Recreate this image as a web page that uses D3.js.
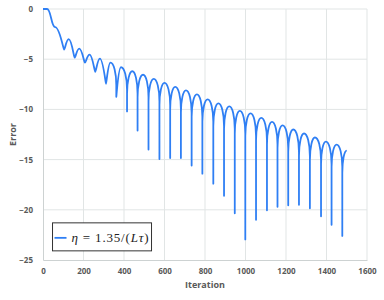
<!DOCTYPE html>
<html lang="en">
<head>
    <meta charset="UTF-8">
    <title>Error vs Iteration</title>
    <script src="https://d3js.org/d3.v7.min.js"></script>
    <style>
        body { margin: 0; background: #fff; }
        svg { display: block; }
        .tick text { font-family: "Open Sans", Arial, sans-serif; font-weight: 700; font-size: 8px; fill: #595959; }
        .axis-title { font-family: "Open Sans", Arial, sans-serif; font-weight: 700; font-size: 9px; fill: #595959; }
    </style>
</head>
<body>
    <svg id="chart" width="384" height="300"></svg>
    <script>
        // points: start, then alternating peak / dip
        const startIter = [0, 20];
        const startErr = [0, 0];
        const peakIter = [60, 127, 179, 230, 281, 333, 385, 441, 494, 547, 600, 653, 706, 760, 813, 866, 920, 972, 1025, 1078, 1131, 1183, 1236, 1289, 1343, 1397, 1450, 1500];
        const peakErr = [-1.8, -3.0, -3.95, -4.55, -4.95, -5.35, -5.8, -6.2, -6.55, -6.95, -7.35, -7.75, -8.1, -8.5, -9.0, -9.4, -9.7, -10.15, -10.4, -10.85, -11.25, -11.6, -12.0, -12.4, -12.8, -13.2, -13.5, -14.1];
        const dipIter = [104, 156, 207, 258, 311, 362, 415, 467, 521, 575, 628, 681, 734, 787, 841, 894, 947, 999, 1052, 1106, 1158, 1211, 1264, 1318, 1373, 1425, 1478];
        const dipErr = [-4.05, -4.85, -5.35, -6.25, -7.45, -8.75, -10.2, -12.1, -14.0, -14.95, -14.85, -14.85, -15.6, -16.4, -17.4, -18.6, -20.35, -22.95, -21.0, -20.05, -19.7, -19.55, -19.5, -19.85, -20.65, -21.5, -22.6];

        const xTicks = [0, 200, 400, 600, 800, 1000, 1200, 1400, 1600];
        const yTicks = [0, -5, -10, -15, -20, -25];

        const svg = d3.select("#chart");
        const margin = { top: 9, right: 17, bottom: 40, left: 43 };
        const width = 384 - margin.left - margin.right;
        const height = 300 - margin.top - margin.bottom;
        const g = svg.append("g").attr("transform", `translate(${margin.left},${margin.top})`);

        const x = d3.scaleLinear().domain([0, 1600]).range([0, width]);
        const y = d3.scaleLinear().domain([-25, 0]).range([height, 0]);

        // grid
        g.append("g").selectAll("line").data(xTicks.slice(1)).join("line")
            .attr("x1", d => x(d)).attr("x2", d => x(d))
            .attr("y1", 0).attr("y2", height)
            .attr("stroke", "#e1e5e5").attr("stroke-width", 1);
        g.append("g").selectAll("line").data(yTicks.slice(0, -1)).join("line")
            .attr("x1", 0).attr("x2", width)
            .attr("y1", d => y(d)).attr("y2", d => y(d))
            .attr("stroke", "#e1e5e5").attr("stroke-width", 1);

        const xAxis = g.append("g").attr("transform", `translate(0,${height})`)
            .call(d3.axisBottom(x).tickValues(xTicks).tickFormat(d3.format("d")).tickSize(0).tickPadding(8));
        const yAxis = g.append("g")
            .call(d3.axisLeft(y).tickValues(yTicks).tickFormat(d3.format("d")).tickSize(0).tickPadding(10));
        [xAxis, yAxis].forEach(a => a.select(".domain").attr("stroke", "#cdd2d2"));

        g.append("text").attr("class", "axis-title")
            .attr("x", width / 2).attr("y", height + 28)
            .attr("text-anchor", "middle").text("Iteration");
        g.append("text").attr("class", "axis-title")
            .attr("transform", `translate(${-27},${height / 2}) rotate(-90)`)
            .attr("text-anchor", "middle").text("Error");

        // build the curve: flat start, then half-arches peak <-> dip
        const pts = [];
        startIter.forEach((it, i) => pts.push({ it, err: startErr[i], kind: "start" }));
        peakIter.forEach((it, i) => {
            pts.push({ it, err: peakErr[i], kind: "peak" });
            if (i < dipIter.length) pts.push({ it: dipIter[i], err: dipErr[i], kind: "dip" });
        });

        const kappa = 0.5523;
        const archH = 30; // px height of the rounded part of each arch
        const p = d3.path();
        p.moveTo(x(pts[0].it), y(pts[0].err));
        for (let i = 1; i < pts.length; i++) {
            const a = pts[i - 1], b = pts[i];
            const x0 = x(a.it), y0 = y(a.err), x1 = x(b.it), y1 = y(b.err);
            const dx = x1 - x0;
            const depth = Math.abs(y1 - y0);
            if (a.kind === "start" && b.kind === "start") {
                p.lineTo(x1, y1);
            } else if (a.kind === "start") {
                p.bezierCurveTo(x0 + dx * 0.5, y0, x0 + dx * 0.5, y1, x1, y1);
            } else if (depth < archH) {
                // shallow wiggle: smooth top, slightly pointed bottom
                const r = 0.3 * (1 - depth / archH);
                if (a.kind === "peak") p.bezierCurveTo(x0 + 0.5 * dx, y0, x1 - r * dx, y1, x1, y1);
                else p.bezierCurveTo(x0 + r * dx, y0, x1 - 0.5 * dx, y1, x1, y1);
            } else if (a.kind === "peak") {
                // round top, then straight down into the dip
                const k = archH * 0.75;
                p.bezierCurveTo(x0 + kappa * dx, y0, x1, y0 + k * (1 - kappa), x1, y0 + k);
                p.lineTo(x1, y1);
            } else {
                const k = archH * 0.75;
                p.lineTo(x0, y1 + k);
                p.bezierCurveTo(x0, y1 + k * (1 - kappa), x1 - kappa * dx, y1, x1, y1);
            }
        }
        g.append("path").attr("d", p.toString())
            .attr("fill", "none").attr("stroke", "#2f7ff4").attr("stroke-width", 1.8)
            .attr("stroke-linejoin", "round");

        // legend
        const lg = g.append("g").attr("transform", `translate(${x(47)},${y(-21.3)})`);
        lg.append("rect").attr("width", 99).attr("height", 28)
            .attr("fill", "#fff").attr("stroke", "#333").attr("stroke-width", 1);
        lg.append("line").attr("x1", 2).attr("x2", 14).attr("y1", 15).attr("y2", 15)
            .attr("stroke", "#2f7ff4").attr("stroke-width", 1.8);
        const lt = lg.append("text").attr("x", 19).attr("y", 19)
            .attr("textLength", 77).attr("lengthAdjust", "spacing")
            .attr("font-family", "'Liberation Serif', 'DejaVu Serif', serif").attr("font-size", 13).attr("fill", "#222");
        lt.append("tspan").attr("font-style", "italic").text("η");
        lt.append("tspan").text(" = 1.35/(");
        lt.append("tspan").attr("font-style", "italic").text("Lτ");
        lt.append("tspan").text(")");
    </script>
</body>
</html>
